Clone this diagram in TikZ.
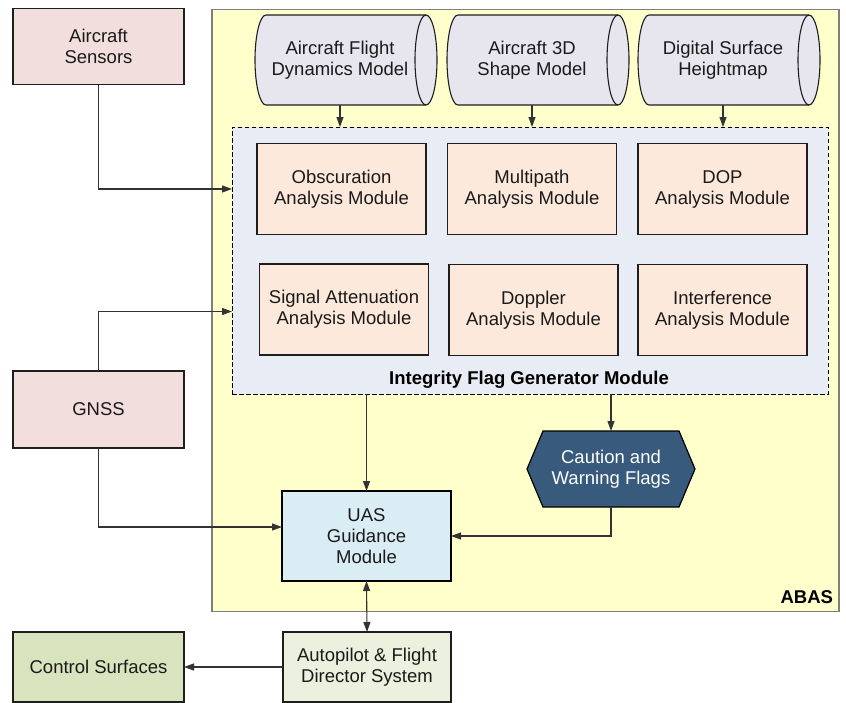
\documentclass[tikz,border=0pt]{standalone}
\usepackage{fontspec}
\setmainfont{Liberation Sans}
\usetikzlibrary{arrows.meta}

\definecolor{txt}{HTML}{1A1A1A}
\definecolor{edge}{HTML}{1E1E1E}
\definecolor{linkc}{HTML}{333333}
\definecolor{pinkfill}{HTML}{F2DFDD}
\definecolor{abasfill}{HTML}{FFFFCC}
\definecolor{abasedge}{HTML}{7F7F7F}
\definecolor{genfill}{HTML}{E8ECF4}
\definecolor{modfill}{HTML}{FDE9DB}
\definecolor{drumfill}{HTML}{E7E5ED}
\definecolor{uasfill}{HTML}{DBEDF4}
\definecolor{apfill}{HTML}{EBF1DE}
\definecolor{ctrlfill}{HTML}{D7E4BD}
\definecolor{flagfill}{HTML}{375A7D}

% drum (horizontal cylinder) centred on the given x, body from y=15 to y=105
\newcommand\drumat[1]{%
  \filldraw[drum] (#1-74,-15) -- (#1+86,-15)
    arc[start angle=90,end angle=-90,x radius=11pt,y radius=45pt]
    -- (#1-74,-105)
    arc[start angle=270,end angle=90,x radius=11pt,y radius=45pt] -- cycle;
  \draw[drum,fill=none] (#1+86,-15)
    arc[start angle=90,end angle=270,x radius=11pt,y radius=45pt];
}

\begin{document}
\begin{tikzpicture}[x=1pt,y=1pt,
  every node/.style={font=\fontsize{18.5}{21}\selectfont, text=txt,
    align=center, inner sep=0pt, outer sep=0pt},
  extbox/.style={draw=edge, line width=1.2pt, fill=pinkfill,
    minimum width=171pt, minimum height=76pt},
  modbox/.style={draw=edge, line width=1.3pt, fill=modfill,
    minimum width=169pt, minimum height=91pt},
  drum/.style={draw=edge, line width=1.1pt, fill=drumfill},
  drumtext/.style={minimum width=170pt, minimum height=90pt},
  link/.style={draw=linkc, line width=1.1pt, -{Triangle[length=10pt,width=7pt]}},
  duallink/.style={draw=linkc, line width=1.1pt,
    {Triangle[length=10pt,width=7pt]}-{Triangle[length=10pt,width=7pt]}},
  labelbold/.style={font=\fontsize{18.5}{21}\selectfont\bfseries, text=black},
]
\useasboundingbox (0,0) rectangle (846,-702);

% ABAS enclosure
\node[draw=abasedge, line width=1.5pt, fill=abasfill, minimum width=627pt,
  minimum height=602pt, anchor=north west] (abas) at (212,-9.5) {};
\node[labelbold, anchor=base east] (abaslbl) at (833,-603) {ABAS};

% external inputs
\node[extbox] (sens) at (98.5,-46.5) {Aircraft\\Sensors};
\node[extbox, minimum height=77pt] (gnss) at (98.5,-409.5) {GNSS};

% model databases
\drumat{340}
\drumat{532}
\drumat{723}
\node[drumtext] (fdm) at (340,-60) {Aircraft Flight\\Dynamics Model};
\node[drumtext] (shp) at (532,-60) {Aircraft 3D\\Shape Model};
\node[drumtext] (dsm) at (723,-60) {Digital Surface\\Heightmap};

% integrity flag generator
\node[draw=black, dash pattern=on 4.5pt off 2.5pt, line width=0.9pt,
  fill=genfill, minimum width=596pt, minimum height=267pt] (ifg) at (530,-260.5) {};
\node[labelbold, anchor=base] (ifglbl) at (529,-384) {Integrity Flag Generator Module};

\node[modbox] (obs) at (341.5,-189) {Obscuration\\Analysis Module};
\node[modbox] (mp)  at (532,-189)   {Multipath\\Analysis Module};
\node[modbox] (dop) at (722.5,-189) {DOP\\Analysis Module};
\node[modbox] (sig) at (344,-309.5) {Signal Attenuation\\Analysis Module};
\node[modbox] (dpl) at (533.5,-310) {Doppler\\Analysis Module};
\node[modbox] (itf) at (722.5,-310) {Interference\\Analysis Module};

% caution and warning flags (hexagon)
\path node[minimum width=168pt, minimum height=76pt] (hx) at (611,-469) {};
\filldraw[draw=black, line width=1.2pt, fill=flagfill]
  ([xshift=16pt]hx.north west) -- ([xshift=-16pt]hx.north east) -- (hx.east)
  -- ([xshift=-16pt]hx.south east) -- ([xshift=16pt]hx.south west) -- (hx.west) -- cycle;
\node[text=white] (hxlbl) at (hx.center) {Caution and\\Warning Flags};

% guidance and flight control
\node[draw=black, line width=2.4pt, fill=uasfill, minimum width=169pt,
  minimum height=90pt] (uas) at (366.5,-536) {UAS\\Guidance\\Module};
\node[draw=edge, line width=1.2pt, fill=apfill, minimum width=168pt,
  minimum height=70pt] (ap) at (367,-667) {Autopilot \& Flight\\Director System};
\node[draw=edge, line width=1.2pt, fill=ctrlfill, minimum width=171pt,
  minimum height=70pt] (ctrl) at (98.5,-667) {Control Surfaces};

% connectors
\draw[link] (fdm.south) -- (fdm.south |- ifg.north);
\draw[link] (shp.south) -- (shp.south |- ifg.north);
\draw[link] (dsm.south) -- (dsm.south |- ifg.north);
\draw[link] (sens.south) |- (ifg.west |- obs.west);
\draw[link] (gnss.north) |- ([yshift=-2pt]ifg.west |- sig.west);
\draw[link] (gnss.south) |- ([yshift=9pt]uas.west);
\draw[link] (uas.north |- ifg.south) -- (uas.north);
\draw[link] (hx.north |- ifg.south) -- (hx.north);
\draw[link] (hx.south) |- (uas.east);
\draw[duallink] (uas.south) -- (ap.north);
\draw[link] (ap.west) -- (ctrl.east);
\end{tikzpicture}
\end{document}
